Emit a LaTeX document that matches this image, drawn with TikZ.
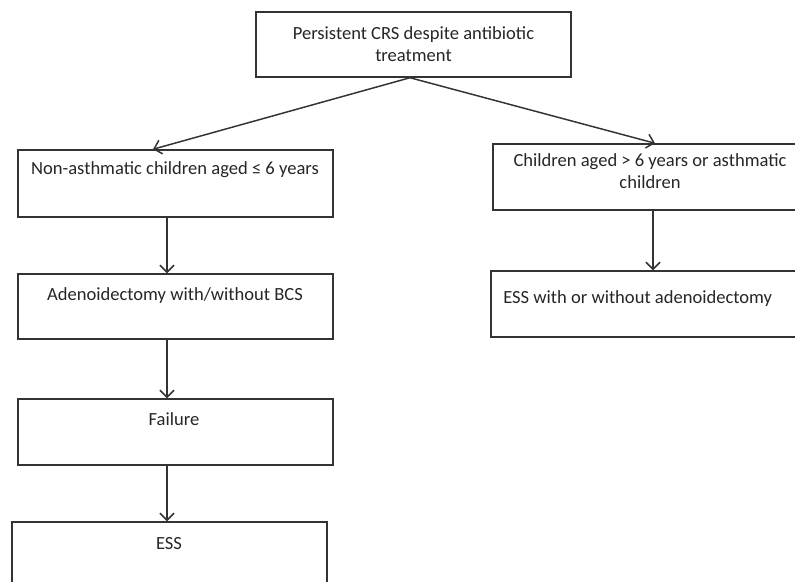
\documentclass[tikz,border=0pt]{standalone}
\usepackage{fontspec}
\setmainfont{Carlito}
\usetikzlibrary{arrows.meta}
\pgfdeclarelayer{nodelayer}
\pgfdeclarelayer{edgelayer}
\pgfsetlayers{edgelayer,nodelayer,main}
\tikzstyle{none}=[inner sep=0pt]
\tikzset{box/.style={draw=black!80, line width=1.05pt, minimum width=7.875cm,
minimum height=1.65cm, inner sep=0pt, anchor=center}}
\tikzset{boxtext/.style={inner sep=0pt, anchor=north, align=center, text=black!85,
font=\fontsize{13.2}{15.2}\selectfont, execute at begin node=\strut}}
\tikzstyle{flow}=[draw=black!80, line width=1.05pt, -{Straight Barb[length=5pt,width=10pt]}]

\begin{document}
\begin{tikzpicture}
	\useasboundingbox (0,0) rectangle (19.875,14.55);
	\begin{pgfonlayer}{nodelayer}
		\node [style=box, minimum height=1.625cm] (0) at (10.3375, 13.4375) {};
		\node [style=box, minimum height=1.675cm] (1) at (4.3875, 9.9625) {};
		\node [style=box, minimum height=1.625cm] (2) at (4.3875, 6.8875) {};
		\node [style=box] (3) at (4.3875, 3.75) {};
		\node [style=box, minimum height=1.75cm] (4) at (4.2375, 0.625) {};
		\node [style=box] (5) at (16.2625, 10.125) {};
		\node [style=box] (6) at (16.2125, 6.95) {};
		\node [style=boxtext] (7) at (10.3375, 13.88) {Persistent CRS despite antibiotic\\treatment};
		\node [style=boxtext] (8) at (4.375, 10.58) {Non-asthmatic children aged ≤ 6 years};
		\node [style=boxtext] (9) at (4.375, 7.43) {Adenoidectomy with/without BCS};
		\node [style=boxtext] (10) at (4.35, 4.305) {Failure};
		\node [style=boxtext] (11) at (4.225, 1.205) {ESS};
		\node [style=boxtext] (12) at (16.25, 10.705) {Children aged > 6 years or asthmatic\\children};
		\node [style=boxtext, anchor=north west] (13) at (12.575, 7.355) {ESS with or without adenoidectomy};
	\end{pgfonlayer}
	\begin{pgfonlayer}{edgelayer}
		\draw [style=flow] ([xshift=-0.0875cm]0.south) to ([xshift=-0.5625cm]1.north);
		\draw [style=flow] ([xshift=-0.0875cm]0.south) to ([xshift=0.1125cm]5.north);
		\draw [style=flow] ([xshift=-0.2125cm]1.south) to ([xshift=-0.2125cm]2.north);
		\draw [style=flow] ([xshift=-0.2125cm]2.south) to ([xshift=-0.2125cm]3.north);
		\draw [style=flow] ([xshift=-0.2125cm]3.south) to ([xshift=-0.2125cm]3.south |- 4.north);
		\draw [style=flow] ([xshift=0.0625cm]5.south) to ([xshift=0.0625cm]5.south |- 6.north);
	\end{pgfonlayer}
\end{tikzpicture}
\end{document}
